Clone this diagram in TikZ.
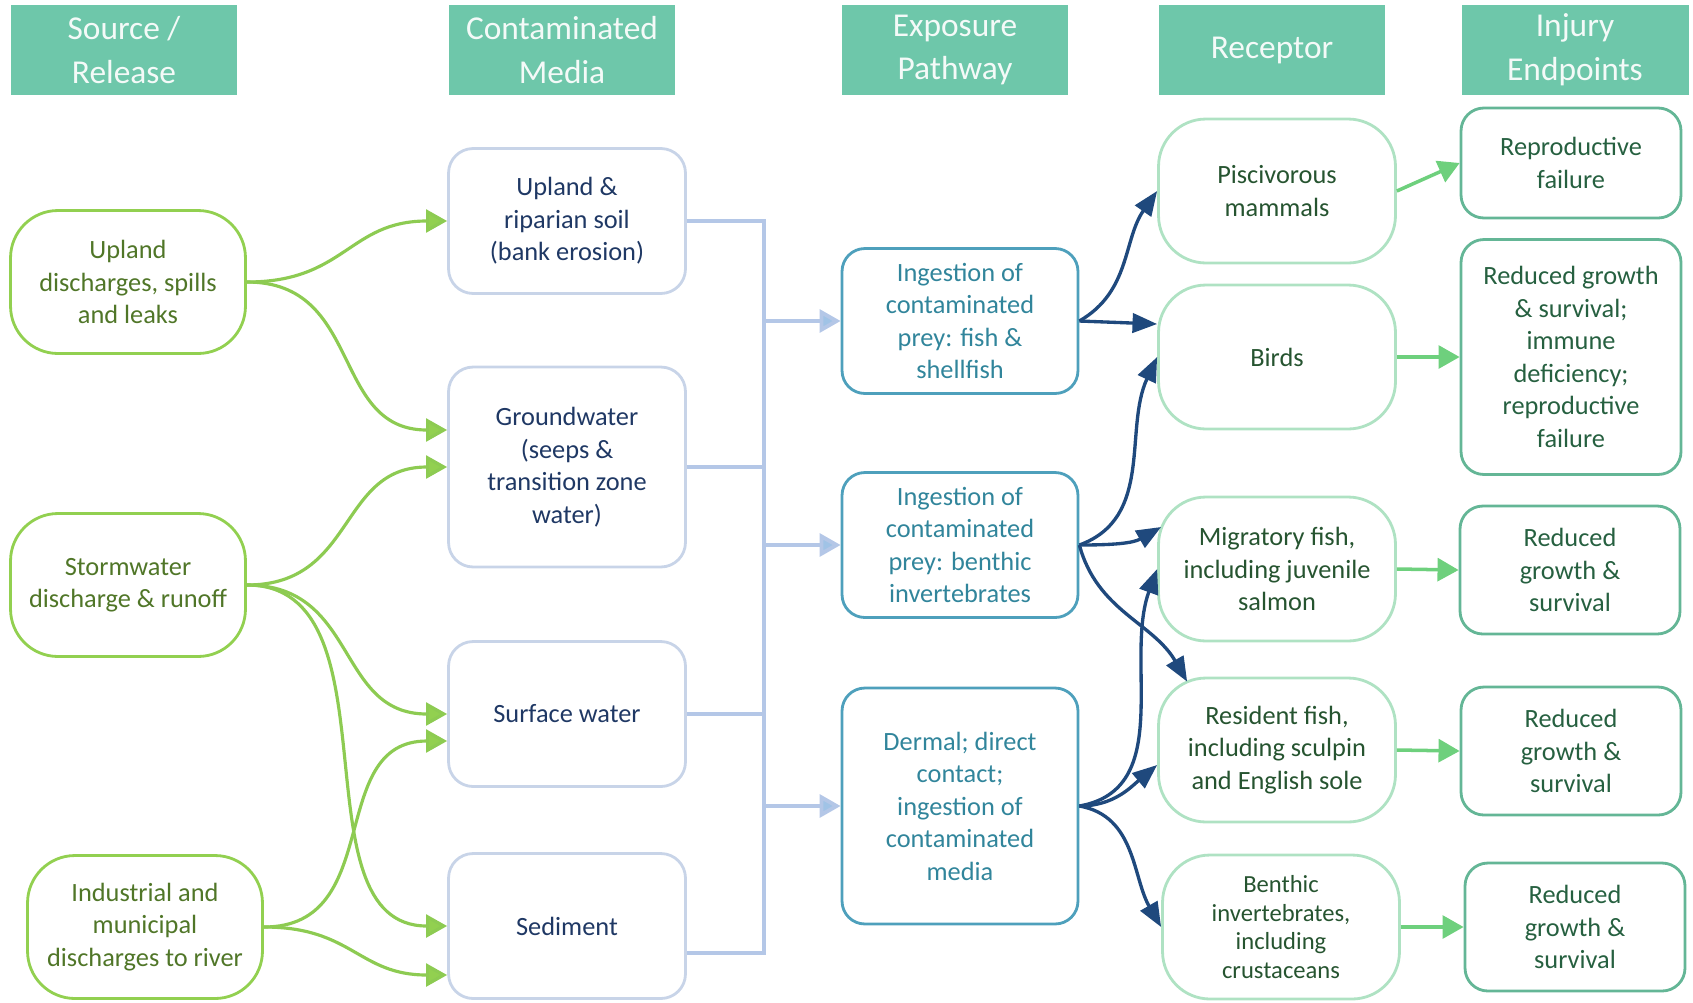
\documentclass[tikz,border=0pt]{standalone}
\usepackage{fontspec}
\setmainfont{Carlito}
\usetikzlibrary{arrows.meta,calc}

\definecolor{hdr}{RGB}{110,199,170}
\definecolor{srcedge}{RGB}{146,208,80}
\definecolor{srctext}{RGB}{80,118,40}
\definecolor{srcline}{RGB}{141,203,82}
\definecolor{mediaedge}{RGB}{200,212,232}
\definecolor{mediatext}{RGB}{31,56,100}
\definecolor{medialine}{RGB}{180,199,231}
\definecolor{mediahead}{RGB}{160,195,230}
\definecolor{pathedge}{RGB}{78,160,188}
\definecolor{pathtext}{RGB}{49,133,155}
\definecolor{navy}{RGB}{31,73,125}
\definecolor{recedge}{RGB}{175,226,195}
\definecolor{rectext}{RGB}{38,84,48}
\definecolor{injedge}{RGB}{100,182,150}
\definecolor{injtext}{RGB}{38,96,64}
\definecolor{injline}{RGB}{110,208,125}

\begin{document}
\begin{tikzpicture}[x=0.02cm,y=-0.02cm,
		headbox/.style={fill=hdr,text=white!92!hdr,minimum width=4.54cm,minimum height=1.8cm,
			inner sep=0pt,align=center,font=\fontsize{19}{25}\selectfont},
		box/.style={draw,line width=1.6pt,inner sep=0pt,align=center,font=\fontsize{15}{18.5}\selectfont},
		srcbox/.style={box,draw=srcedge,text=srctext,rounded corners=27pt,minimum width=4.7cm,minimum height=2.86cm},
		mediabox/.style={box,draw=mediaedge,text=mediatext,rounded corners=14pt,minimum width=4.74cm,minimum height=2.9cm},
		pathbox/.style={box,draw=pathedge,text=pathtext,rounded corners=13pt,minimum width=4.72cm,minimum height=2.9cm},
		recbox/.style={box,draw=recedge,text=rectext,rounded corners=27pt,minimum width=4.74cm,minimum height=2.88cm},
		injbox/.style={box,draw=injedge,text=injtext,rounded corners=13pt,minimum width=4.4cm,minimum height=2.56cm},
		src arrow/.style={draw=srcline,line width=1.8pt,-{Triangle[length=12pt,width=13pt,fill=srcedge]}},
		media line/.style={draw=medialine,line width=2.2pt},
		media arrow/.style={media line,-{Triangle[length=12pt,width=13pt,fill=mediahead]}},
		prey arrow/.style={draw=navy,line width=1.9pt,-{Triangle[length=14pt,width=11pt]}},
		inj arrow/.style={draw=injline,line width=2pt,-{Triangle[length=12pt,width=13pt]}}]
	\useasboundingbox (0,0) rectangle (1693,1002);

	% column headers
	\foreach \x/\txt in {124/{Source /\\Release}, 562/{Contaminated\\Media}, 955/{Exposure\\Pathway},
		1272/{Receptor}, 1575/{Injury\\Endpoints}}
	\node[headbox] (head \x) at (\x,50) {\txt};

	% sources
	\node[srcbox] (upland) at (128,282) {Upland\\discharges, spills\\and leaks};
	\node[srcbox] (storm) at (128,585) {Stormwater\\discharge \& runoff};
	\node[srcbox] (industrial) at (145,927) {Industrial and\\municipal\\discharges to river};

	% contaminated media
	\node[mediabox] (soil) at (567,221) {Upland \&\\riparian soil\\(bank erosion)};
	\node[mediabox,minimum height=4cm] (groundwater) at (567,467) {Groundwater\\(seeps \&\\transition zone\\water)};
	\node[mediabox] (surface) at (567,714) {Surface water};
	\node[mediabox] (sediment) at (567,926) {Sediment};

	% exposure pathways
	\node[pathbox] (fish prey) at (960,321) {Ingestion of\\contaminated\\prey: fish \&\\shellfish};
	\node[pathbox] (benthic prey) at (960,545) {Ingestion of\\contaminated\\prey: benthic\\invertebrates};
	\node[pathbox,minimum height=4.72cm] (dermal) at (960,806) {Dermal; direct\\contact;\\ingestion of\\contaminated\\media};

	% receptors
	\node[recbox] (mammals) at (1277,191) {Piscivorous\\mammals};
	\node[recbox] (birds) at (1277,357) {Birds};
	\node[recbox] (migratory) at (1277,569) {Migratory fish,\\including juvenile\\salmon};
	\node[recbox] (resident) at (1277,750) {Resident fish,\\including sculpin\\and English sole};
	\node[recbox,font=\fontsize{14}{16.3}\selectfont] (benthic inv) at (1281,927) {Benthic\\invertebrates,\\including\\crustaceans};

	% injury endpoints
	\node[injbox,minimum height=2.2cm] (repro) at (1571,163) {Reproductive\\failure};
	\node[injbox,minimum height=4.7cm] (growth birds) at (1571,357) {Reduced growth\\\& survival;\\immune\\deficiency;\\reproductive\\failure};
	\node[injbox] (growth mig) at (1570,570) {Reduced\\growth \&\\survival};
	\node[injbox] (growth res) at (1571,751) {Reduced\\growth \&\\survival};
	\node[injbox] (growth ben) at (1575,927) {Reduced\\growth \&\\survival};

	% source -> media
	\draw[src arrow] (upland.east) to[out=0,in=180,looseness=1.2] (soil.west);
	\draw[src arrow] (upland.east) to[out=0,in=180,looseness=1.2] ($(groundwater.west)+(0,-37)$);
	\draw[src arrow] (storm.east) to[out=0,in=180,looseness=1.2] (groundwater.west);
	\draw[src arrow] (storm.east) to[out=0,in=180,looseness=1.2] (surface.west);
	\draw[src arrow] (storm.east) to[out=0,in=180] (sediment.west);
	\draw[src arrow] (industrial.east) to[out=0,in=180,looseness=1.2] ($(surface.west)+(0,27)$);
	\draw[src arrow] (industrial.east) to[out=0,in=180,looseness=1.2] ($(sediment.west)+(0,49)$);

	% media -> pathways
	\coordinate (bus) at (764,0);
	\draw[media line] (soil.east) -| ($(sediment.east -| bus)+(0,27)$) -- ($(sediment.east)+(0,27)$);
	\draw[media line] (groundwater.east) -- (groundwater.east -| bus);
	\draw[media line] (surface.east) -- (surface.east -| bus);
	\foreach \p in {fish prey, benthic prey, dermal}
	\draw[media arrow] (\p.west -| bus) -- (\p.west);

	% pathways -> receptors
	\draw[prey arrow] (fish prey.east) to[out=30,in=-125] (mammals.west);
	\draw[prey arrow] (fish prey.east) -- ($(birds.west)+(0,-33)$);
	\draw[prey arrow] (benthic prey.east) to[out=20,in=-115] (birds.west);
	\draw[prey arrow] (benthic prey.east) to[out=0,in=-150] ($(migratory.west)+(4,-42)$);
	\draw[prey arrow] (benthic prey.east) to[out=-75,in=120] ($(resident.north west)+(30,5)$);
	\draw[prey arrow] (dermal.east) to[out=10,in=-110] (migratory.west);
	\draw[prey arrow] (dermal.east) to[out=0,in=-140] ($(resident.west)+(0,15)$);
	\draw[prey arrow] (dermal.east) to[out=-10,in=120] (benthic inv.west);

	% receptors -> injury
	\draw[inj arrow] (mammals.east) -- (repro.west);
	\foreach \r/\i in {birds/growth birds, migratory/growth mig, resident/growth res, benthic inv/growth ben}
	\draw[inj arrow] (\r.east) -- (\i.west);
\end{tikzpicture}
\end{document}
